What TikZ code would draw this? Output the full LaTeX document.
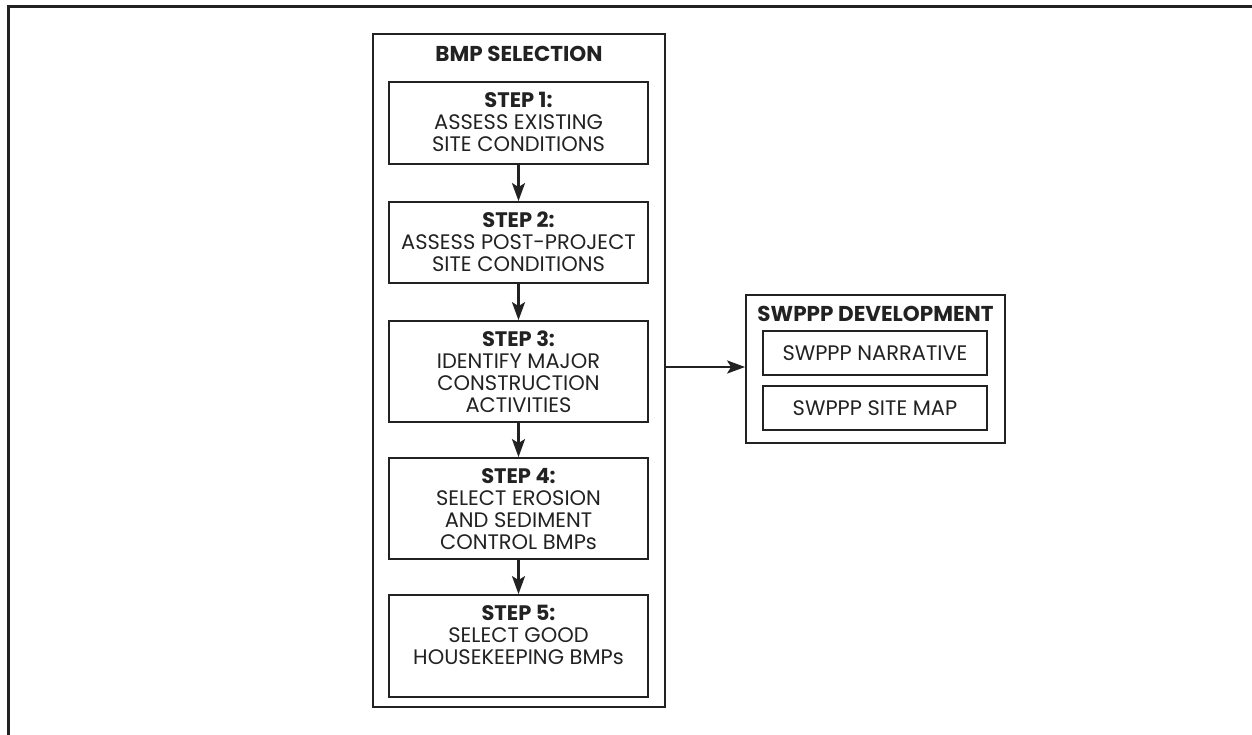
\documentclass[tikz,border=0pt]{standalone}
\usepackage{fontspec}
\setmainfont{Poppins}
\usetikzlibrary{arrows.meta}
\definecolor{ink}{HTML}{222222}
\tikzset{
  frame/.style={draw=ink, line width=3pt},
  group/.style={draw=ink, line width=1.8pt},
  stepbox/.style={draw=ink, line width=1.8pt, minimum width=259pt, inner sep=0pt},
  subbox/.style={draw=ink, line width=1.8pt, minimum width=224pt, minimum height=44pt, inner sep=0pt, font=\fontsize{21}{22}\selectfont, text=ink},
  txt/.style={anchor=north, align=center, inner sep=0pt, font=\fontsize{21}{22}\selectfont, text=ink},
  ttl/.style={align=center, inner sep=0pt, font=\fontsize{21.5}{22}\selectfont\bfseries, text=ink},
  flow/.style={draw=ink, line width=2.5pt, -{Stealth[length=18pt, width=13pt, inset=4pt]}},
}
\newcommand{\stp}[1]{{\bfseries #1}}
\begin{document}
\begin{tikzpicture}[x=1pt, y=-1pt]
\useasboundingbox (0,0) rectangle (1252,735);
% outer frame (top and left only)
\draw[frame] (8,737) -- (8,7) -- (1254,7);

% BMP selection group
\node[group, minimum width=292pt, minimum height=673pt, inner sep=0pt] (bmp) at (519,370.5) {};
\node[ttl] (bmpt) at (519,54) {BMP SELECTION};

\node[stepbox, minimum height=82pt] (s1) at (518.5,123) {};
\node[txt] (t1) at ([yshift=-11pt]s1.north) {\stp{STEP 1:}\\ASSESS EXISTING\\SITE CONDITIONS};

\node[stepbox, minimum height=81pt] (s2) at (518.5,242.5) {};
\node[txt] (t2) at ([yshift=-11pt]s2.north) {\stp{STEP 2:}\\ASSESS POST-PROJECT\\SITE CONDITIONS};

\node[stepbox, minimum height=101pt] (s3) at (518.5,371.5) {};
\node[txt] (t3) at ([yshift=-11pt]s3.north) {\stp{STEP 3:}\\IDENTIFY MAJOR\\CONSTRUCTION\\ACTIVITIES};

\node[stepbox, minimum height=101pt] (s4) at (518.5,508.5) {};
\node[txt] (t4) at ([yshift=-11pt]s4.north) {\stp{STEP 4:}\\SELECT EROSION\\AND SEDIMENT\\CONTROL BMPs};

\node[stepbox, minimum height=102pt] (s5) at (518.5,646) {};
\node[txt] (t5) at ([yshift=-11pt]s5.north) {\stp{STEP 5:}\\SELECT GOOD\\HOUSEKEEPING BMPs};

\draw[flow] (s1.south) -- (s2.north);
\draw[flow] (s2.south) -- (s3.north);
\draw[flow] (s3.south) -- (s4.north);
\draw[flow] (s4.south) -- (s5.north);

% SWPPP development group
\node[group, minimum width=259pt, minimum height=148pt, inner sep=0pt] (sw) at (875.5,369) {};
\node[ttl] (swt) at (875.5,314) {SWPPP DEVELOPMENT};
\node[subbox] (nar) at (875,353) {SWPPP NARRATIVE};
\node[subbox] (map) at (875,408) {SWPPP SITE MAP};

\coordinate (out) at (bmp.east |- 0,367);
\draw[flow] (out) -- (sw.west |- out);
\end{tikzpicture}
\end{document}
